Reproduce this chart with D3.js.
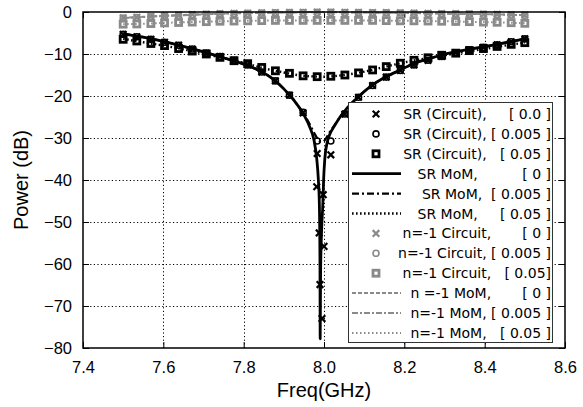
<!DOCTYPE html>
<html><head><meta charset="utf-8">
<script src="https://cdn.jsdelivr.net/npm/d3@7"></script>
<style>
html,body{margin:0;padding:0;background:#fff;}
svg{display:block;}
</style></head>
<body>
<svg id="chart" width="583" height="407"></svg>
<script>
// ---------- data ----------
const xTicks = [7.4, 7.6, 7.8, 8.0, 8.2, 8.4, 8.6];
const yTicks = [0, -10, -20, -30, -40, -50, -60, -70, -80];

const circuitFreq = [7.500,7.534,7.569,7.603,7.638,7.672,7.707,7.741,7.776,7.810,
  7.845,7.879,7.914,7.948,7.983,8.017,8.052,8.086,8.121,8.155,
  8.190,8.224,8.259,8.293,8.328,8.362,8.397,8.431,8.466,8.500];

const srCircuit0 = [-5.3,-5.9,-6.5,-7.2,-7.9,-8.8,-9.8,-10.6,-11.5,-12.6,
  -14.3,-16.4,-19.8,-24.0,-33.7,-34.0,-24.3,-20.3,-17.5,-15.5,
  -13.9,-12.6,-11.5,-10.6,-9.7,-9.0,-8.4,-7.8,-7.1,-6.4];
const srCircuit0ExtraFreq = [7.982, 7.998, 7.988, 8.000, 7.990, 7.995];
const srCircuit0Extra = [-41.6, -43.5, -52.6, -55.8, -64.9, -73.0];
const srCircuit005 = [-5.3,-5.9,-6.5,-7.2,-7.9,-8.8,-9.8,-10.6,-11.5,-12.6,
  -14.3,-16.4,-19.8,-23.9,-30.7,-30.7,-24.3,-20.3,-17.5,-15.5,
  -13.9,-12.6,-11.5,-10.6,-9.7,-9.0,-8.4,-7.8,-7.1,-6.4];
const srCircuit05 = [-6.5,-6.9,-7.5,-8.0,-8.7,-9.3,-10.0,-10.8,-11.6,-12.3,
  -13.2,-14.0,-14.6,-15.2,-15.4,-15.3,-15.0,-14.5,-13.8,-13.0,
  -12.2,-11.5,-10.9,-10.3,-9.8,-9.2,-8.7,-8.2,-7.7,-7.3];

const n1Circuit0 = [-1.4,-1.25,-1.1,-0.9,-0.75,-0.6,-0.5,-0.4,-0.3,-0.25,
  -0.2,-0.15,-0.1,-0.05,0,0,-0.05,-0.1,-0.15,-0.15,
  -0.2,-0.25,-0.3,-0.35,-0.4,-0.45,-0.5,-0.55,-0.65,-0.75];
const n1Circuit005 = [-1.45,-1.3,-1.15,-0.95,-0.8,-0.65,-0.55,-0.45,-0.35,-0.3,
  -0.25,-0.2,-0.15,-0.12,-0.1,-0.1,-0.12,-0.15,-0.2,-0.2,
  -0.25,-0.3,-0.35,-0.4,-0.45,-0.5,-0.55,-0.6,-0.7,-0.8];
const n1Circuit05 = [-2.9,-2.85,-2.75,-2.6,-2.5,-2.4,-2.3,-2.2,-2.15,-2.1,
  -2.05,-2.0,-2.0,-2.0,-2.0,-2.0,-2.0,-2.0,-2.0,-2.05,
  -2.1,-2.1,-2.15,-2.2,-2.25,-2.3,-2.4,-2.45,-2.55,-2.7];

const momSR0Freq = [7.50,7.55,7.60,7.65,7.70,7.75,7.80,7.85,7.875,7.90,7.925,7.95,7.965,7.975,
  7.982,7.986,7.9885,7.990,7.9905,7.9915,7.994,7.997,7.999,8.002,8.008,8.015,8.025,8.04,
  8.06,8.09,8.12,8.155,8.19,8.225,8.26,8.29,8.35,8.42,8.50];
const momSR0 = [-5.2,-6.0,-7.0,-8.2,-9.5,-10.9,-12.4,-14.5,-16.1,-18.3,-21.0,-24.5,-27.5,-30.5,
  -35,-40,-46,-60,-77.8,-62,-52,-46,-40,-35,-31,-29,-27.3,-25,
  -22.6,-19.8,-17.4,-15.4,-13.8,-12.2,-11.2,-10.3,-9.1,-7.9,-6.4];

const momSR005Freq = [7.50,7.55,7.60,7.65,7.70,7.75,7.80,7.85,7.875,7.90,7.925,7.95,7.965,7.975,
  7.985,7.993,8.000,8.008,8.015,8.025,8.04,8.06,8.09,8.12,8.155,8.19,8.225,8.26,8.29,8.35,8.42,8.50];
const momSR005 = [-5.2,-6.0,-7.0,-8.2,-9.5,-10.9,-12.4,-14.5,-16.1,-18.3,-21.0,-24.3,-26.8,-28.7,
  -30.3,-30.9,-30.7,-29.6,-28.5,-27.1,-25,-22.6,-19.8,-17.4,-15.4,-13.8,-12.2,-11.2,-10.3,-9.1,-7.9,-6.4];

const momFreq = [7.50,7.55,7.60,7.65,7.70,7.75,7.80,7.85,7.90,7.95,8.00,
  8.05,8.10,8.15,8.20,8.25,8.30,8.35,8.40,8.45,8.50];
const momSR05 = [-6.4,-7.2,-8.0,-8.9,-9.9,-11.0,-12.1,-13.4,-14.4,-15.2,-15.4,
  -15.0,-14.2,-13.1,-12.0,-11.1,-10.3,-9.5,-8.8,-8.0,-7.3];
const momN10 = [-1.4,-1.15,-0.9,-0.7,-0.5,-0.35,-0.25,-0.15,-0.07,-0.02,0,
  -0.03,-0.08,-0.15,-0.2,-0.28,-0.35,-0.42,-0.5,-0.6,-0.75];
const momN1005 = [-1.45,-1.2,-0.95,-0.75,-0.55,-0.4,-0.3,-0.2,-0.12,-0.08,-0.06,
  -0.08,-0.12,-0.18,-0.24,-0.3,-0.38,-0.45,-0.53,-0.63,-0.78];
const momN105 = [-2.9,-2.8,-2.6,-2.45,-2.3,-2.2,-2.1,-2.05,-2.0,-2.0,-2.0,
  -2.0,-2.0,-2.05,-2.1,-2.15,-2.2,-2.3,-2.4,-2.5,-2.7];

const legendLabels = [
  "SR (Circuit),     [ 0.0 ]",
  "SR (Circuit), [ 0.005 ]",
  "SR (Circuit),   [ 0.05 ]",
  "SR MoM,          [ 0 ]",
  "SR MoM,  [ 0.005 ]",
  "SR MoM,     [ 0.05 ]",
  "n=-1 Circuit,       [ 0 ]",
  "n=-1 Circuit, [ 0.005 ]",
  "n=-1 Circuit,   [ 0.05]",
  "n =-1 MoM,       [ 0 ]",
  "n=-1 MoM, [ 0.005 ]",
  "n=-1 MoM,   [ 0.05 ]"
];

// ---------- layout ----------
const W = 583, H = 407;
const margin = {left: 83, top: 12, right: 18, bottom: 59};
const iw = W - margin.left - margin.right;
const ih = H - margin.top - margin.bottom;
const BLACK = "#000", GRAY = "#8a8a8a";

const svg = d3.select("#chart");
const g = svg.append("g").attr("transform", `translate(${margin.left},${margin.top})`);
const x = d3.scaleLinear().domain([7.4, 8.6]).range([0, iw]);
const y = d3.scaleLinear().domain([-80, 0]).range([ih, 0]);

// grid
const grid = g.append("g").attr("stroke", "#000").attr("stroke-width", 1).attr("stroke-dasharray", "1.2,2.4");
grid.selectAll("line.vx").data(xTicks.slice(1, -1)).join("line")
  .attr("x1", d => Math.round(x(d)) + 0.5).attr("x2", d => Math.round(x(d)) + 0.5)
  .attr("y1", 0).attr("y2", ih);
grid.selectAll("line.hy").data(yTicks.slice(1, -1)).join("line")
  .attr("y1", d => Math.round(y(d)) + 0.5).attr("y2", d => Math.round(y(d)) + 0.5)
  .attr("x1", 0).attr("x2", iw);

// axes
const fmtX = d3.format(".1f");
g.append("g").attr("transform", `translate(0,${ih})`)
  .call(d3.axisBottom(x).tickValues(xTicks).tickSize(-6).tickPadding(13).tickFormat(fmtX));
g.append("g")
  .call(d3.axisLeft(y).tickValues(yTicks).tickSize(-6).tickPadding(11).tickFormat(d3.format("d")));
g.append("g").call(d3.axisTop(x).tickValues(xTicks).tickSize(-6).tickFormat(""));
g.append("g").attr("transform", `translate(${iw},0)`)
  .call(d3.axisRight(y).tickValues(yTicks).tickSize(-6).tickFormat(""));
g.selectAll(".domain").remove();
g.selectAll(".tick line").attr("stroke", "#000").attr("stroke-width", 1);
g.selectAll(".tick text").attr("font-family", "'Liberation Sans', Arial, sans-serif")
  .attr("font-size", 16.5).attr("fill", "#000");

// curves
const line = d3.line().x(d => x(d[0])).y(d => y(d[1])).curve(d3.curveMonotoneX);
const zip = (a, b) => a.map((v, i) => [v, b[i]]);
const curves = g.append("g");
function drawLine(fr, vals, color, dash, width) {
  curves.append("path").datum(zip(fr, vals)).attr("d", line)
    .attr("fill", "none").attr("stroke", color).attr("stroke-width", width)
    .attr("stroke-dasharray", dash).attr("stroke-linejoin", "round");
}
function marker(sel, type, color) {
  if (type === "x") {
    sel.append("path").attr("d", "M-3.3,-3.3L3.3,3.3M-3.3,3.3L3.3,-3.3")
      .attr("stroke", color).attr("stroke-width", 2.2).attr("fill", "none");
  } else if (type === "o") {
    sel.append("circle").attr("r", 3).attr("fill", "none")
      .attr("stroke", color).attr("stroke-width", 1.6);
  } else {
    sel.append("rect").attr("x", -3).attr("y", -3).attr("width", 6).attr("height", 6)
      .attr("fill", "none").attr("stroke", color).attr("stroke-width", 2.8);
  }
}
function drawMarkers(fr, vals, type, color) {
  const mg = curves.append("g");
  zip(fr, vals).forEach(d => {
    const s = mg.append("g").attr("transform", `translate(${x(d[0])},${y(d[1])})`);
    marker(s, type, color);
  });
}

const styles = {
  solid:  {dash: null, w: 2.8},
  dashdot:{dash: "7,3,2,3", w: 2.2},
  dotted: {dash: "1.6,2.4", w: 2.4},
  gdash:  {dash: "4,2", w: 2},
  gdashdot:{dash: "6,2,2,2", w: 2},
  gdot:   {dash: "1.5,2.5", w: 2}
};

// gray (n=-1) first
drawLine(momFreq, momN10, GRAY, styles.gdash.dash, styles.gdash.w);
drawLine(momFreq, momN1005, GRAY, styles.gdashdot.dash, styles.gdashdot.w);
drawLine(momFreq, momN105, GRAY, styles.gdot.dash, styles.gdot.w);
drawMarkers(circuitFreq, n1Circuit0, "x", GRAY);
drawMarkers(circuitFreq, n1Circuit005, "o", GRAY);
drawMarkers(circuitFreq, n1Circuit05, "s", GRAY);
// black (SR)
drawLine(momSR0Freq, momSR0, BLACK, styles.solid.dash, styles.solid.w);
drawLine(momSR005Freq, momSR005, BLACK, styles.dashdot.dash, styles.dashdot.w);
drawLine(momFreq, momSR05, BLACK, styles.dotted.dash, styles.dotted.w);
drawMarkers(circuitFreq, srCircuit0, "x", BLACK);
drawMarkers(srCircuit0ExtraFreq, srCircuit0Extra, "x", BLACK);
drawMarkers(circuitFreq, srCircuit005, "o", BLACK);
drawMarkers(circuitFreq, srCircuit05, "s", BLACK);

// border
g.append("rect").attr("x", 0).attr("y", 0).attr("width", iw).attr("height", ih)
  .attr("fill", "none").attr("stroke", "#000").attr("stroke-width", 1.5);

// legend
const legendItems = [
  {kind: "m", type: "x", color: BLACK},
  {kind: "m", type: "o", color: BLACK},
  {kind: "m", type: "s", color: BLACK},
  {kind: "l", st: styles.solid, color: BLACK},
  {kind: "l", st: styles.dashdot, color: BLACK},
  {kind: "l", st: styles.dotted, color: BLACK},
  {kind: "m", type: "x", color: GRAY},
  {kind: "m", type: "o", color: GRAY},
  {kind: "m", type: "s", color: GRAY},
  {kind: "l", st: styles.gdash, color: GRAY},
  {kind: "l", st: styles.gdashdot, color: GRAY},
  {kind: "l", st: styles.gdot, color: GRAY}
];
const lg = svg.append("g").attr("transform", "translate(348,102)");
lg.append("rect").attr("x", 0.5).attr("y", 0.5).attr("width", 204).attr("height", 240)
  .attr("fill", "#fff").attr("stroke", "#333").attr("stroke-width", 1);
const rowY = i => 12 + i * 19.9;
legendItems.forEach((it, i) => {
  const ry = rowY(i);
  if (it.kind === "m") {
    marker(lg.append("g").attr("transform", `translate(28,${ry})`), it.type, it.color);
  } else {
    lg.append("line").attr("x1", 4).attr("x2", 53).attr("y1", ry).attr("y2", ry)
      .attr("stroke", it.color).attr("stroke-width", it.st.w).attr("stroke-dasharray", it.st.dash);
  }
  lg.append("text").attr("x", 203).attr("y", ry).attr("dy", "0.36em")
    .attr("text-anchor", "end").style("white-space", "pre")
    .attr("font-family", "'DejaVu Sans', sans-serif").attr("font-size", 14)
    .attr("fill", "#000").text(legendLabels[i]);
});

// axis titles
svg.append("text").attr("x", margin.left + iw / 2).attr("y", 397).attr("text-anchor", "middle")
  .attr("font-family", "'Liberation Sans', Arial, sans-serif").attr("font-size", 20).text("Freq(GHz)");
svg.append("text").attr("transform", `translate(28,${margin.top + ih / 2}) rotate(-90)`)
  .attr("text-anchor", "middle")
  .attr("font-family", "'Liberation Sans', Arial, sans-serif").attr("font-size", 20).text("Power (dB)");
</script>
</body></html>
